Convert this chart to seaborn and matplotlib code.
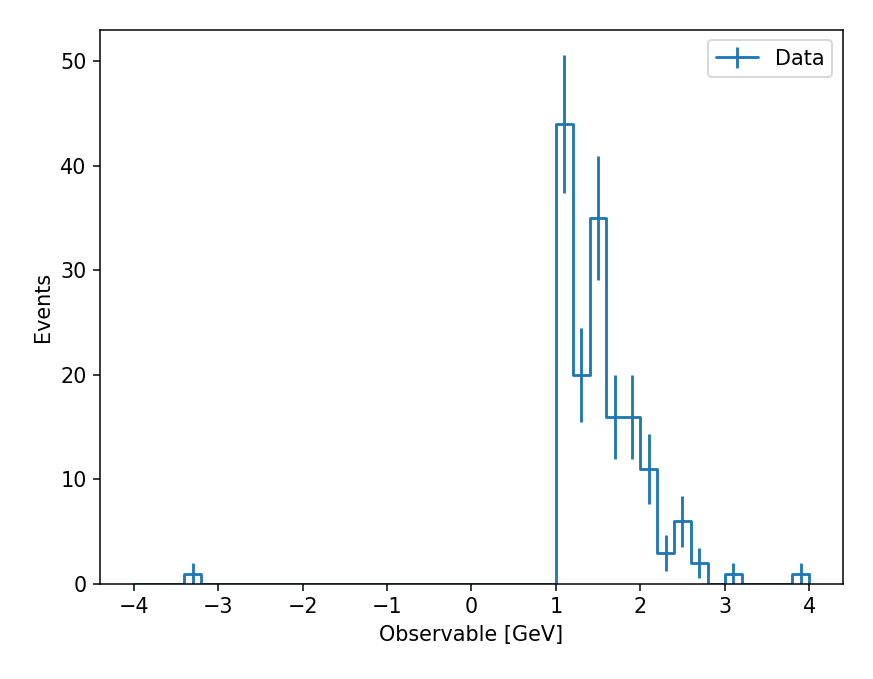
import numpy as np
import pandas as pd
import matplotlib
matplotlib.use("Agg")
import matplotlib.pyplot as plt
import seaborn as sns

# binning of the observable (GeV)
bin_lo = -4.0
bin_hi = 4.0
bin_width = 0.2

# event counts per bin
counts = [0, 0, 0, 1, 0, 0, 0, 0, 0, 0,
          0, 0, 0, 0, 0, 0, 0, 0, 0, 0,
          0, 0, 0, 0, 0, 44, 20, 35, 16, 16,
          11, 3, 6, 2, 0, 1, 0, 0, 0, 1]

xlabel = "Observable [GeV]"
ylabel = "Events"
legend_label = "Data"

sns.set_style("ticks")
plt.rcParams['font.family'] = ['DejaVu Sans']
plt.rcParams['font.size'] = 11
plt.rcParams['text.color'] = 'black'
plt.rcParams['axes.labelcolor'] = 'black'

counts = np.array(counts, dtype=float)
edges = np.linspace(bin_lo, bin_hi, len(counts) + 1)
centers = 0.5 * (edges[:-1] + edges[1:])
df = pd.DataFrame({"x": centers, "w": counts})

fig = plt.figure(figsize=(873 / 136, 679 / 136), dpi=136)
ax = fig.add_axes([0.1145, 0.1399, 0.851, 0.816])

sns.histplot(data=df, x="x", weights="w", binwidth=bin_width,
             binrange=(bin_lo, bin_hi), element="step",
             fill=False, color="C0", linewidth=1.5, ax=ax)
# close the last bin down to the baseline
ax.plot([edges[-1], edges[-1]], [0, counts[-1]], color="C0", linewidth=1.5)

nz = counts > 0
ax.errorbar(centers[nz], counts[nz], yerr=np.sqrt(counts[nz]),
            fmt="none", ecolor="C0", elinewidth=1.5)

# legend handle like a data point with error bar
ax.errorbar([np.nan], [np.nan], yerr=[1], color="C0", linewidth=1.5,
            label=legend_label)

ax.set_xlim(-4.4, 4.4)
ax.set_ylim(0, 53)
ax.set_xlabel(xlabel, fontsize=11)
ax.set_ylabel(ylabel, fontsize=11)
for s in ax.spines.values():
    s.set_visible(True)
    s.set_color("black")
ax.tick_params(colors="black", labelsize=11)
ax.legend(loc="upper right", fontsize=11)

plt.savefig("out.png", dpi=136)
